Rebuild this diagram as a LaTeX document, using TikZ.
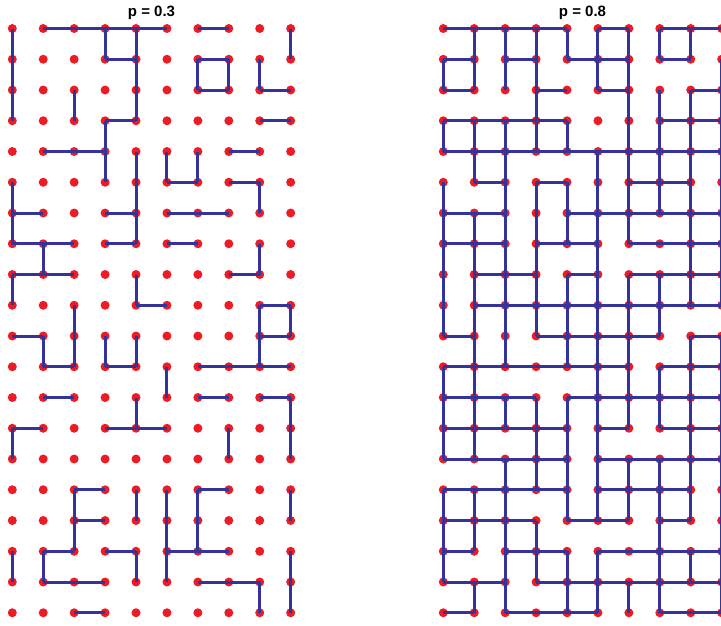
\documentclass[tikz,border=0pt]{standalone}
\usepackage{fontspec}
\setmainfont{Liberation Sans}
\usetikzlibrary{positioning}
\definecolor{siteRed}{RGB}{237,28,36}
\definecolor{bondBlue}{RGB}{51,51,153}

\begin{document}
\begin{tikzpicture}[
  x=1pt, y=-1pt,
  site/.style={circle, fill=siteRed, inner sep=0pt, minimum size=9pt},
  bond/.style={line width=3pt, bondBlue},
  ptitle/.style={font=\fontsize{15}{18}\selectfont\bfseries, anchor=base}
]
\useasboundingbox (0,0) rectangle (721,625);
\clip (0,0) rectangle (721,625);

% sites of both lattices
\foreach \i in {0,...,9} {
  \foreach \j in {0,...,19} {
    \node[site] (L-\i-\j) at ({12.3+30.93*\i},{28.5+30.75*\j}) {};
    \node[site] (R-\i-\j) at ({443.3+30.93*\i},{28.5+30.75*\j}) {};
  }
}

\node[ptitle] (ttl-L) at (151.5,16) {p = 0.3};
\node[ptitle] (ttl-R) at (582.5,16) {p = 0.8};

% open bonds, p = 0.3 (row/columns)
\foreach \j/\cols in {0/{1,2,3,4,6}, 1/{3,6}, 2/{6,8}, 3/{3,8}, 4/{1,2,7}, 5/{5,7},
    6/{0,3,5,6}, 7/{0,1,3,5}, 8/{0,1,7}, 9/{4,8}, 10/{0,8}, 11/{1,3,6,7,8},
    12/{1,6,8}, 13/{0,3,4}, 15/{2,6}, 16/{2}, 17/{1,3,5,6}, 18/{1,2,6,7}, 19/{2}} {
  \foreach \i in \cols {
    \pgfmathtruncatemacro\k{\i+1}
    \draw[bond] (L-\i-\j.center) -- (L-\k-\j.center);
  }
}
\foreach \j/\cols in {0/{0,3,4,9}, 1/{0,4,6,7,8}, 2/{0,2,4}, 3/{3}, 4/{3,4,5,6},
    5/{0,4,8}, 6/{0,4}, 7/{1,8}, 8/{0,4}, 9/{2,8,9}, 10/{1,2,3,4,8}, 11/{5},
    12/{4,9}, 13/{0,7,9}, 15/{2,4,5,6,9}, 16/{2,5,6}, 17/{0,1,4,5,9}, 18/{8,9}} {
  \foreach \i in \cols {
    \pgfmathtruncatemacro\k{\j+1}
    \draw[bond] (L-\i-\j.center) -- (L-\i-\k.center);
  }
}

% open bonds, p = 0.8
\foreach \j/\cols in {0/{0,1,2,3,5,7,8}, 1/{0,2,4,5,7}, 2/{0,3,5,8}, 3/{0,1,2,3,7,8},
    4/{0,...,8}, 5/{1,3,6,7}, 6/{0,1,4,5,6,7,8}, 7/{0,1,3,4,6,7,8}, 8/{1,2,4,6,7,8},
    9/{1,...,8}, 10/{0,3,4,5,6,8}, 11/{0,1,2,3,4,5,7,8}, 12/{0,1,2,4,5,6,7,8},
    13/{0,1,2,3,5,7,8}, 14/{0,1,2,3,5,6,7,8}, 15/{0,1,2,3,5,6,7}, 16/{0,1,2,4,5,7},
    17/{0,2,3,5,6,7,8}, 18/{0,1,3,4,5,6,7,8}, 19/{0,2,3,4,7,8}} {
  \foreach \i in \cols {
    \pgfmathtruncatemacro\k{\i+1}
    \draw[bond] (R-\i-\j.center) -- (R-\k-\j.center);
  }
}
\foreach \j/\cols in {0/{1,...,8}, 1/{0,1,2,3,5,6,9}, 2/{3,6,7,8,9}, 3/{0,1,2,3,4,6,7,8,9},
    4/{1,2,5,6,7,8,9}, 5/{0,2,3,4,5,6,7,8,9}, 6/{0,1,2,3,4,5,6,8,9}, 7/{0,1,2,3,5,8,9},
    8/{0,...,9}, 9/{0,...,7}, 10/{1,2,4,5,6,8,9}, 11/{0,1,5,6,7,8,9}, 12/{0,...,9},
    13/{0,1,3,4,5,8,9}, 14/{2,3,4,5,6,7,8,9}, 15/{0,1,2,4,5,6,7,8,9},
    16/{0,1,2,3,7,9}, 17/{0,2,3,4,5,7,8,9}, 18/{1,2,4,5,6,7,9}} {
  \foreach \i in \cols {
    \pgfmathtruncatemacro\k{\j+1}
    \draw[bond] (R-\i-\j.center) -- (R-\i-\k.center);
  }
}
\end{tikzpicture}
\end{document}
